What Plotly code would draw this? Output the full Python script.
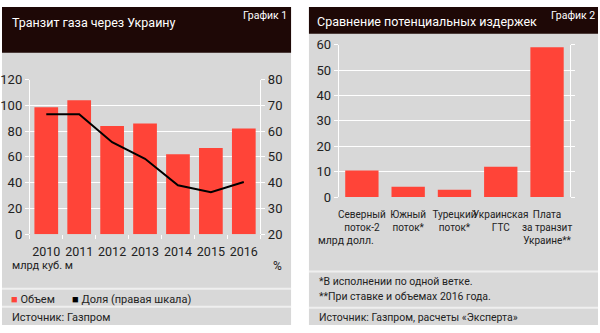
import plotly.graph_objects as go

# ---- data ----
years = ["2010", "2011", "2012", "2013", "2014", "2015", "2016"]
volume = [98.5, 104, 84, 86, 62, 67, 82]          # млрд куб. м
share = [66.6, 66.6, 55.7, 49.3, 39, 36.3, 40.3]  # %, правая шкала

cost_cats = ["Северный<br>поток-2", "Южный<br>поток*", "Турецкий<br>поток*",
             "Украинская<br>ГТС", "Плата<br>за транзит<br>Украине**"]
cost_vals = [10.5, 4.1, 2.9, 11.9, 59]             # млрд долл.

left_ticks = [0, 20, 40, 60, 80, 100, 120]
right_ticks = [20, 30, 40, 50, 60, 70, 80]
cost_ticks = [0, 10, 20, 30, 40, 50, 60]

RED = "#ff4438"
GREY = "#d8d8d8"
DARK = "#1e0806"
FONT = "Roboto, sans-serif"
W, H = 600, 333

def px(x):
    return x / W

def py(y):
    return 1 - y / H

fig = go.Figure()
fig.add_trace(go.Bar(x=years, y=volume, marker_color=RED, marker_line_width=0,
                     xaxis="x", yaxis="y", name="Объем"))
fig.add_trace(go.Scatter(x=years, y=share, mode="lines", line=dict(color="black", width=2),
                         xaxis="x", yaxis="y2", name="Доля (правая шкала)"))
fig.add_trace(go.Bar(x=cost_cats, y=cost_vals, marker_color=RED, marker_line_width=0,
                     xaxis="x3", yaxis="y3", name="Издержки"))

axcommon = dict(showgrid=True, gridcolor="white", gridwidth=1, zeroline=False,
                showline=True, linecolor="white", linewidth=1,
                ticks="outside", ticklen=4, tickcolor="white",
                tickfont=dict(family=FONT, size=13, color="#222"))

fig.update_layout(
    width=W, height=H, margin=dict(l=0, r=0, t=0, b=0),
    paper_bgcolor="white", plot_bgcolor="rgba(0,0,0,0)",
    showlegend=False, bargap=0.28,
    font=dict(family=FONT, color="#222"),
    xaxis=dict(domain=[px(28), px(260)], anchor="y", range=[-0.5, 6.5],
               showgrid=False, showline=False, ticks="outside", ticklen=4,
               tickcolor="white", tickson="boundaries", tickangle=0,
               ticklabelstandoff=8,
               tickfont=dict(family=FONT, size=12.5, color="#222")),
    yaxis=dict(domain=[py(238), py(76)], anchor="x", range=[0, 120],
               tickvals=left_ticks, **axcommon),
    yaxis2=dict(domain=[py(238), py(76)], anchor="x", overlaying="y", side="right",
                range=[20, 80], tickvals=right_ticks, showgrid=False, zeroline=False,
                showline=True, linecolor="white", ticks="outside", ticklen=4,
                tickcolor="white", tickfont=dict(family=FONT, size=13, color="#222")),
    xaxis3=dict(domain=[px(339), px(572)], anchor="y3", range=[-0.5, 4.5],
                showgrid=False, showline=False, ticks="", tickangle=0,
                ticklabelstandoff=10,
                tickfont=dict(family=FONT, size=10, color="#222")),
    yaxis3=dict(domain=[py(199), py(39.6)], anchor="x3", range=[0, 60],
                tickvals=cost_ticks, mirror="ticks", **axcommon),
)

shapes = [
    # panels
    dict(type="rect", xref="paper", yref="paper", x0=0, x1=px(291), y0=0, y1=1,
         fillcolor=GREY, line_width=0, layer="below"),
    dict(type="rect", xref="paper", yref="paper", x0=px(309), x1=1, y0=0, y1=1,
         fillcolor=GREY, line_width=0, layer="below"),
    # headers
    dict(type="rect", xref="paper", yref="paper", x0=0, x1=px(291), y0=py(48), y1=1,
         fillcolor=DARK, line_width=0, layer="below"),
    dict(type="rect", xref="paper", yref="paper", x0=px(309), x1=1, y0=py(28), y1=1,
         fillcolor=DARK, line_width=0, layer="below"),
]
# separator lines
for x0, x1, yy in [(0, 291, 295), (0, 291, 314), (309, 600, 277), (309, 600, 315)]:
    shapes.append(dict(type="line", xref="paper", yref="paper", x0=px(x0), x1=px(x1),
                       y0=py(yy), y1=py(yy), line=dict(color="#efefef", width=2),
                       layer="below"))
fig.update_layout(shapes=shapes)

def note(x, y, text, size=11, color="#222", xanchor="left"):
    fig.add_annotation(xref="paper", yref="paper", x=px(x), y=py(y), text=text,
                       showarrow=False, xanchor=xanchor, yanchor="middle",
                       font=dict(family=FONT, size=size, color=color))

note(8, 16, "Транзит газа через Украину", size=12.5, color="white")
note(289, 9, "График 1", size=10.5, color="white", xanchor="right")
note(315, 15, "Сравнение потенциальных издержек", size=12.5, color="white")
note(599, 9, "График 2", size=10.5, color="white", xanchor="right")

note(8, 271, "млрд куб. м", size=11)
note(284, 271, "%", size=12, xanchor="right")
note(316, 245, "млрд долл.", size=10.5)

note(7, 306, f"<span style='color:{RED}'>■</span> Объем", size=11)
note(68, 306, "<span style='color:black'>■</span> Доля (правая шкала)", size=11)
note(8, 325, "Источник: Газпром", size=11)

note(317, 287, "*В исполнении по одной ветке.", size=10.5)
note(317, 303, "**При ставке и объемах 2016 года.", size=10.5)
note(317, 325, "Источник: Газпром, расчеты «Эксперта»", size=10.5)

fig.write_html("out.html")
